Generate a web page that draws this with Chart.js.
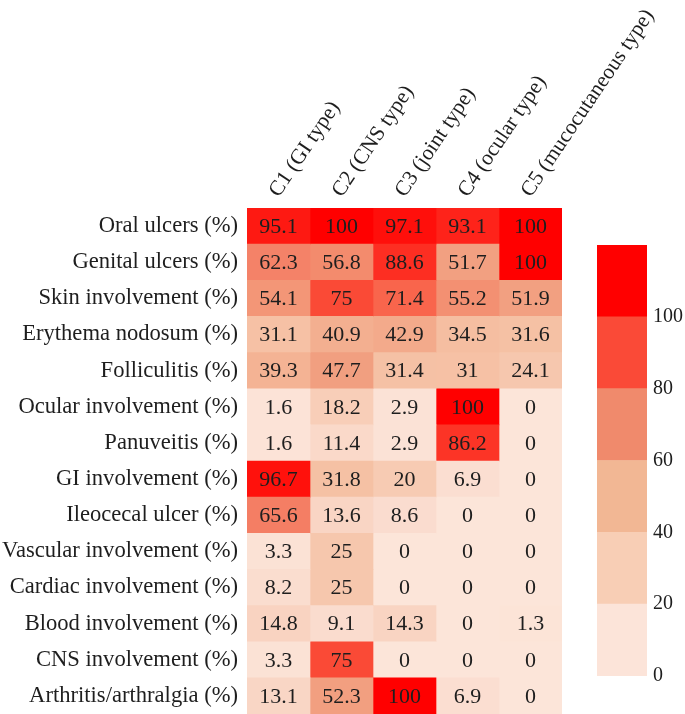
<!DOCTYPE html>
<html>
<head>
<meta charset="utf-8">
<script src="https://cdn.jsdelivr.net/npm/chart.js@4.4.1/dist/chart.umd.min.js"></script>
<style>
  html, body { margin: 0; padding: 0; background: #ffffff; }
  #wrap { position: relative; width: 685px; height: 714px; overflow: hidden; }
  #main { position: absolute; left: 0; top: 0; }
  #bar { position: absolute; left: 597px; top: 235px; }
</style>
</head>
<body>
<div id="wrap">
  <canvas id="main" width="685" height="714"></canvas>
  <canvas id="bar" width="88" height="460"></canvas>
</div>
<script>
// ---- data ----
const rowLabels = [
  'Oral ulcers (%)', 'Genital ulcers (%)', 'Skin involvement (%)', 'Erythema nodosum (%)',
  'Folliculitis (%)', 'Ocular involvement (%)', 'Panuveitis (%)', 'GI involvement (%)',
  'Ileocecal ulcer (%)', 'Vascular involvement (%)', 'Cardiac involvement (%)',
  'Blood involvement (%)', 'CNS involvement (%)', 'Arthritis/arthralgia (%)'
];
const colLabels = ['C1 (GI type)', 'C2 (CNS type)', 'C3 (joint type)', 'C4 (ocular type)', 'C5 (mucocutaneous type)'];
const c1 = [95.1, 62.3, 54.1, 31.1, 39.3, 1.6, 1.6, 96.7, 65.6, 3.3, 8.2, 14.8, 3.3, 13.1];
const c2 = [100, 56.8, 75, 40.9, 47.7, 18.2, 11.4, 31.8, 13.6, 25, 25, 9.1, 75, 52.3];
const c3 = [97.1, 88.6, 71.4, 42.9, 31.4, 2.9, 2.9, 20, 8.6, 0, 0, 14.3, 0, 100];
const c4 = [93.1, 51.7, 55.2, 34.5, 31, 100, 86.2, 6.9, 0, 0, 0, 0, 0, 6.9];
const c5 = [100, 100, 51.9, 31.6, 24.1, 0, 0, 0, 0, 0, 0, 1.3, 0, 0];
const columns = [c1, c2, c3, c4, c5];
const colorbarTicks = [0, 20, 40, 60, 80, 100];
const colorbarMax = 120;

// ---- style ----
const FONT = 'Liberation Serif';
const TEXT = '#1e1e1e';
const colorStops = [
  [0, [252, 229, 217]], [10, [250, 219, 205]], [20, [247, 203, 179]], [35, [245, 190, 160]],
  [42, [243, 172, 141]], [48, [241, 158, 127]], [52, [242, 160, 129]], [56, [243, 140, 110]],
  [62, [244, 130, 104]], [66, [244, 126, 99]], [72, [249, 98, 74]], [75, [250, 74, 54]],
  [86, [252, 52, 38]], [93, [254, 36, 26]], [100, [255, 0, 0]]
];
const bandColors = ['#fce4d9', '#f8ceb5', '#f2b794', '#f08a6c', '#fa4a37', '#ff0000'];

function colorFor(v) {
  if (v <= colorStops[0][0]) return 'rgb(' + colorStops[0][1].join(',') + ')';
  for (let i = 1; i < colorStops.length; i++) {
    const [v1, c1_] = colorStops[i];
    const [v0, c0_] = colorStops[i - 1];
    if (v <= v1) {
      const t = (v - v0) / (v1 - v0);
      const c = c0_.map((x, k) => Math.round(x + (c1_[k] - x) * t));
      return 'rgb(' + c.join(',') + ')';
    }
  }
  return 'rgb(255,0,0)';
}

const cellText = {
  id: 'cellText',
  afterDatasetsDraw(chart) {
    const ctx = chart.ctx;
    ctx.save();
    ctx.font = '22px "' + FONT + '"';
    ctx.fillStyle = TEXT;
    ctx.textAlign = 'center';
    ctx.textBaseline = 'middle';
    chart.data.datasets.forEach((ds, di) => {
      const meta = chart.getDatasetMeta(di);
      meta.data.forEach((el, i) => {
        const cx = (el.x + el.base) / 2;
        ctx.fillText(String(columns[di][i]), cx, el.y + 1);
      });
    });
    ctx.restore();
  }
};

function noPad(scale) {
  scale.paddingTop = 0; scale.paddingBottom = 0;
  scale.paddingLeft = 0; scale.paddingRight = 0;
}

new Chart(document.getElementById('main'), {
  type: 'bar',
  data: {
    labels: rowLabels,
    datasets: columns.map((col, j) => ({
      label: colLabels[j],
      data: col.map(() => [j, j + 1]),
      backgroundColor: col.map(v => colorFor(v)),
      borderWidth: 0,
      barPercentage: 1,
      categoryPercentage: 1,
      grouped: false
    }))
  },
  options: {
    indexAxis: 'y',
    responsive: false,
    animation: false,
    layout: { padding: { left: 0, right: 123, top: 0, bottom: 0 } },
    plugins: { legend: { display: false }, tooltip: { enabled: false } },
    scales: {
      x: {
        type: 'linear',
        position: 'top',
        min: 0,
        max: colLabels.length,
        grid: { display: false, drawTicks: false },
        border: { display: false },
        afterBuildTicks(scale) {
          scale.ticks = colLabels.map((_, j) => ({ value: j + 0.5 }));
        },
        afterFit(scale) { scale.height = 208; noPad(scale); },
        ticks: {
          autoSkip: false,
          minRotation: 56,
          maxRotation: 56,
          padding: 6,
          labelOffset: 17,
          color: TEXT,
          font: { family: FONT, size: 21.5 },
          callback: (v) => colLabels[Math.round(v - 0.5)]
        }
      },
      y: {
        type: 'category',
        grid: { display: false, drawTicks: false },
        border: { display: false },
        afterFit(scale) { scale.width = 247; noPad(scale); },
        ticks: {
          padding: 9,
          color: TEXT,
          font: { family: FONT, size: 22.6 }
        }
      }
    }
  },
  plugins: [cellText]
});

// ---- colour bar ----
const bands = colorbarTicks.map((t, i) => [t, i + 1 < colorbarTicks.length ? colorbarTicks[i + 1] : colorbarMax]);
new Chart(document.getElementById('bar'), {
  type: 'bar',
  data: {
    labels: [''],
    datasets: bands.map((b, i) => ({
      data: [b],
      backgroundColor: bandColors[i],
      borderWidth: 0,
      barPercentage: 1,
      categoryPercentage: 1,
      grouped: false
    }))
  },
  options: {
    responsive: false,
    animation: false,
    layout: { padding: { left: 0, right: 0, top: 10, bottom: 19 } },
    plugins: { legend: { display: false }, tooltip: { enabled: false } },
    scales: {
      x: { display: false },
      y: {
        position: 'right',
        min: 0,
        max: colorbarMax,
        grid: { display: false, drawTicks: false },
        border: { display: false },
        afterBuildTicks(scale) {
          scale.ticks = colorbarTicks.map(v => ({ value: v }));
        },
        afterFit(scale) { scale.width = 38; noPad(scale); },
        ticks: {
          padding: 6,
          color: TEXT,
          font: { family: FONT, size: 20 }
        }
      }
    }
  }
});
</script>
</body>
</html>
